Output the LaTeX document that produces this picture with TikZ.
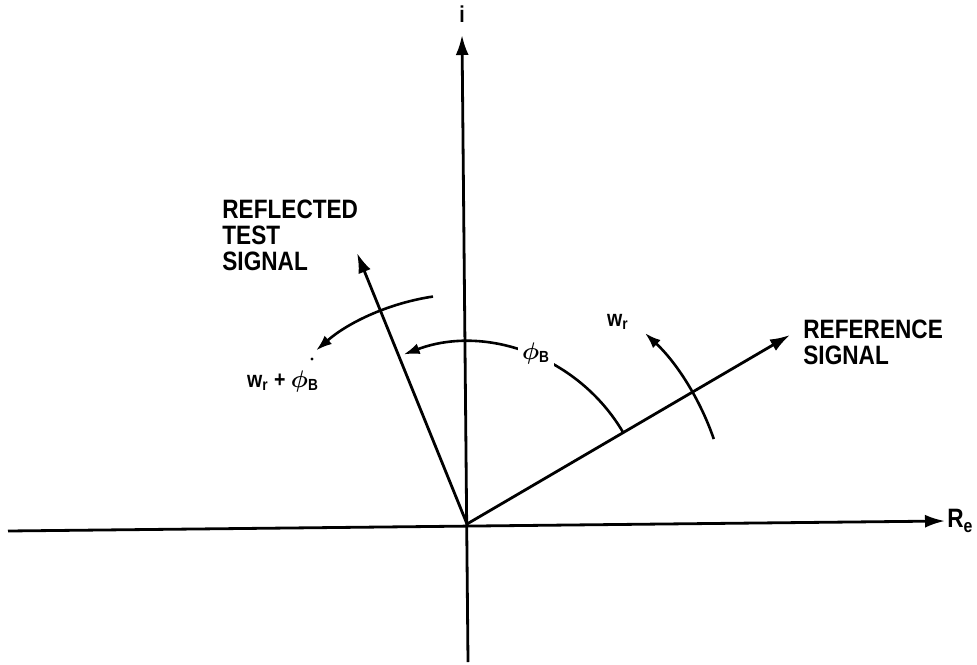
\documentclass[tikz,border=0pt]{standalone}
\usepackage{amsmath}
\usepackage{fontspec}
\setmainfont{Liberation Sans}[FakeStretch=0.85]
\usepackage{tikz}
\usetikzlibrary{arrows.meta, calc}

\tikzset{
  axis/.style={line width=1.4pt},
  vec/.style={line width=1.4pt, -{Latex[length=10pt,width=6.5pt]}},
  turn/.style={line width=1.3pt, -{Latex[length=8pt,width=5.5pt]}},
  lbl/.style={font=\bfseries\fontsize{13.3}{14}\selectfont, align=left, inner sep=0pt},
  sym/.style={font=\bfseries\fontsize{11.5}{12}\selectfont, inner sep=0pt}
}

\begin{document}
\begin{tikzpicture}[x=0.5pt, y=0.5pt]
\useasboundingbox (0,0) rectangle (977,664);

%---axes---
\coordinate (O) at (467,140);
\coordinate (xl) at (8,133);
\coordinate (xr) at (945,143);
\coordinate (yb) at (468,2);
\coordinate (yt) at (462,629);

\draw[vec] (xl) -- (xr);
\draw[vec] (yb) -- (yt);

\node[sym] (im) at (462,650) {i};
\node[lbl, anchor=west] (re) at (947,143) {R\textsubscript{e}};

%---vectors---
\coordinate (ref) at (790,329);
\coordinate (refl) at (357,411);

\draw[vec] (O) -- (ref);
\draw[vec] (O) -- (refl);

\node[lbl, anchor=west] (reflab) at (803,322) {REFERENCE\\[-1pt]SIGNAL};
\node[lbl, anchor=west] (refllab) at (222,429) {REFLECTED\\[-1pt]TEST\\[-1pt]SIGNAL};

%---rotations---
\draw[turn] ([shift={(O)}]30.3:181) arc[start angle=30.3, end angle=110.5, radius=181];
\draw[turn] ([shift={(O)}]19:261) arc[start angle=19, end angle=47, radius=261];
\draw[turn] ([shift={(O)}]98.5:230) arc[start angle=98.5, end angle=131, radius=230];

\fill (312,305) circle (1.6);

\node[sym, fill=white, inner sep=2pt] (phi) at (536,311) {$\boldsymbol{\phi}$\textsubscript{B}};
\node[sym] (wr) at (618,342) {w\textsubscript{r}};
\node[sym] (sum) at (283,283) {w\textsubscript{r} + $\boldsymbol{\phi}$\textsubscript{B}};

\end{tikzpicture}
\end{document}
